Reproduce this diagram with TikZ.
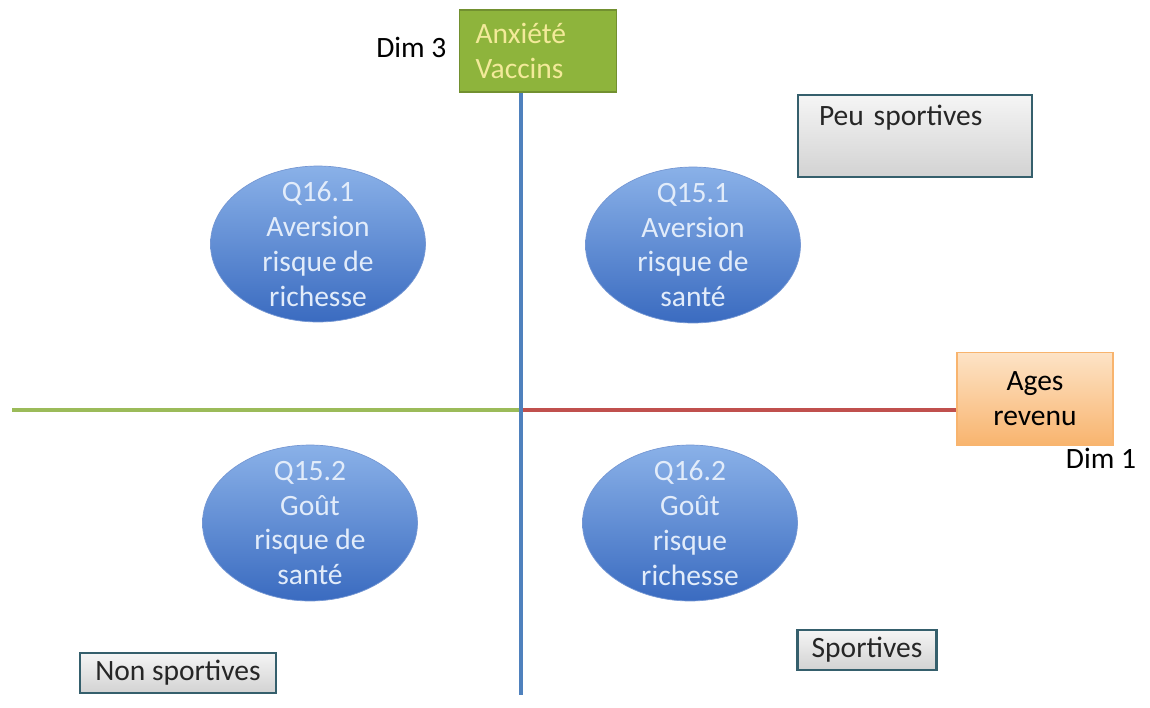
\documentclass[tikz,border=0pt]{standalone}
\usepackage{fontspec}
\setmainfont{Carlito}
\usetikzlibrary{shapes.geometric,positioning}

\definecolor{axblue}{HTML}{4F81BD}
\definecolor{axred}{HTML}{C0504D}
\definecolor{axgreen}{HTML}{9BBB59}
\definecolor{elltop}{HTML}{8AB1E8}
\definecolor{ellbot}{HTML}{3A6BC0}
\definecolor{elltext}{HTML}{E2ECFA}
\definecolor{anxfill}{HTML}{8EB43C}
\definecolor{anxtext}{HTML}{F3EA9A}
\definecolor{agetop}{HTML}{FDE3C6}
\definecolor{agebot}{HTML}{F8B46E}
\definecolor{boxedge}{HTML}{355F6C}

\tikzset{
  quad/.style={ellipse, top color=elltop, bottom color=ellbot, draw=ellbot!70,
    text=elltext, align=center, inner xsep=0pt, inner ysep=-8pt,
    minimum width=4.3cm, minimum height=3.12cm},
  sportbox/.style={rectangle, draw=boxedge, line width=1.3pt, text=black!85,
    top color=gray!8, bottom color=gray!35, inner sep=3pt},
  dimlabel/.style={inner sep=0pt, text=black},
  axis/.style={line width=2.6pt}
}

\begin{document}
\begin{tikzpicture}[x=0.02cm, y=-0.02cm, font=\fontsize{16.8}{19.8}\selectfont]
    \useasboundingbox (0,0) rectangle (1150,707);

    \node[rectangle, draw=anxfill!80!black, fill=anxfill, text=anxtext, line width=0.8pt,
          minimum width=3.14cm, minimum height=1.64cm, inner xsep=0.3cm, text width=2.5cm,
          align=left] (anx) at (538,51) {Anxiété\\Vaccins};
    \node[dimlabel, left=0.24cm of anx, yshift=0.08cm] (dim3) {Dim 3};

    \node[rectangle, draw=agebot, top color=agetop, bottom color=agebot, line width=0.8pt,
          minimum width=3.12cm, minimum height=1.86cm, align=center] (ages) at (1035,399) {Ages\\revenu};
    \node[dimlabel] (dim1) at (1101,458) {Dim 1};

    \node[sportbox, minimum width=4.68cm, text width=3.84cm, align=left,
          text height=0.49cm, text depth=0.93cm] (peu) at (915,136) {Peu sportives};
    \node[sportbox, minimum width=3.92cm, minimum height=0.8cm] (non) at (178,673) {Non sportives};
    \node[sportbox, minimum width=2.78cm, minimum height=0.8cm] (sport) at (867,650) {Sportives};

    \node[quad] (q161) at (318,244) {Q16.1\\Aversion\\risque de\\richesse};
    \node[quad] (q151) at (693,245) {Q15.1\\Aversion\\risque de\\santé};
    \node[quad] (q152) at (310,523) {Q15.2\\Goût\\risque de\\santé};
    \node[quad] (q162) at (690,523) {Q16.2\\Goût\\risque\\richesse};

    % axes
    \coordinate (orig) at (521,410);
    \coordinate (left) at (12,410);
    \coordinate (bottom) at (521,695);
    \draw[axis, axgreen] (left) -- (orig);
    \draw[axis, axred] (orig) -- (orig -| ages.west);
    \draw[line width=1.8pt, axblue] (anx.south -| orig) -- (bottom);
\end{tikzpicture}
\end{document}
